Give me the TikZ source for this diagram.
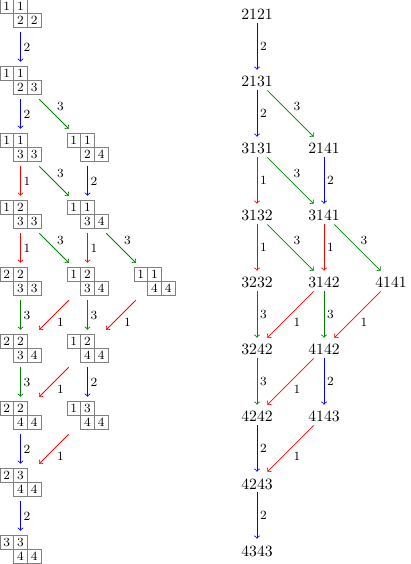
\documentclass[tikz,border=0pt]{standalone}
\usepackage{xcolor}
\usepackage{tikz}
\usetikzlibrary{positioning}
\newcommand{\tabcell}{8.75pt}
\newcommand{\tabl}[6]{%
  \node[tabnode] (#1) at (#2) {};
  \node[cell, xshift=-\tabcell, yshift=.5*\tabcell] at (#1.center) {#3};
  \node[cell, yshift=.5*\tabcell] at (#1.center) {#4};
  \node[cell, yshift=-.5*\tabcell] at (#1.center) {#5};
  \node[cell, xshift=\tabcell, yshift=-.5*\tabcell] at (#1.center) {#6};}

\begin{document}
\begin{tikzpicture}[x=1.5cm, y=-1.5cm,
      tabnode/.style={inner sep=0pt, outer sep=3.2pt, minimum width=26.25pt, minimum height=17.5pt},
      cell/.style={draw=gray, minimum size=\tabcell, inner sep=0pt, font=\footnotesize},
      num/.style={inner sep=2pt, text height=8.8pt, text depth=0pt, anchor=base},
      op1/.style={->, draw=red, line width=0.5pt},
      op2/.style={->, draw=blue, line width=0.5pt},
      op3/.style={->, draw=green!50!black, line width=0.5pt},
      lab/.style={auto, font=\footnotesize, inner sep=1.8pt}]
    \useasboundingbox (0,0) rectangle (6.134,8.418);
    \foreach \n/\j/\k/\p/\q/\r/\s in {2121/0/0/1/1/2/2, 2131/0/1/1/1/2/3,
        3131/0/2/1/1/3/3, 2141/1/2/1/1/2/4, 3132/0/3/1/2/3/3, 3141/1/3/1/1/3/4,
        3232/0/4/2/2/3/3, 3142/1/4/1/2/3/4, 4141/2/4/1/1/4/4, 3242/0/5/2/2/3/4,
        4142/1/5/1/2/4/4, 4242/0/6/2/2/4/4, 4143/1/6/1/3/4/4, 4243/0/7/2/3/4/4,
        4343/0/8/3/3/4/4} {
      \tabl{l\n}{\j+0.306,\k+0.2015}{\p}{\q}{\r}{\s}
      \node[num] (r\n) at (\j+3.836,\k+0.2985) {\n};
    }
    \foreach \a/\b/\c in {2121/2131/2, 2131/3131/2, 2131/2141/3, 3131/3132/1,
        3131/3141/3, 2141/3141/2, 3132/3232/1, 3132/3142/3, 3141/3142/1,
        3141/4141/3, 3232/3242/3, 3142/3242/1, 3142/4142/3, 4141/4142/1,
        3242/4242/3, 4142/4242/1, 4142/4143/2, 4242/4243/2, 4143/4243/1,
        4243/4343/2}
      \foreach \s in {l,r}
        \draw[op\c] (\s\a) -- node[lab] {\c} (\s\b);
  \end{tikzpicture}
\end{document}
